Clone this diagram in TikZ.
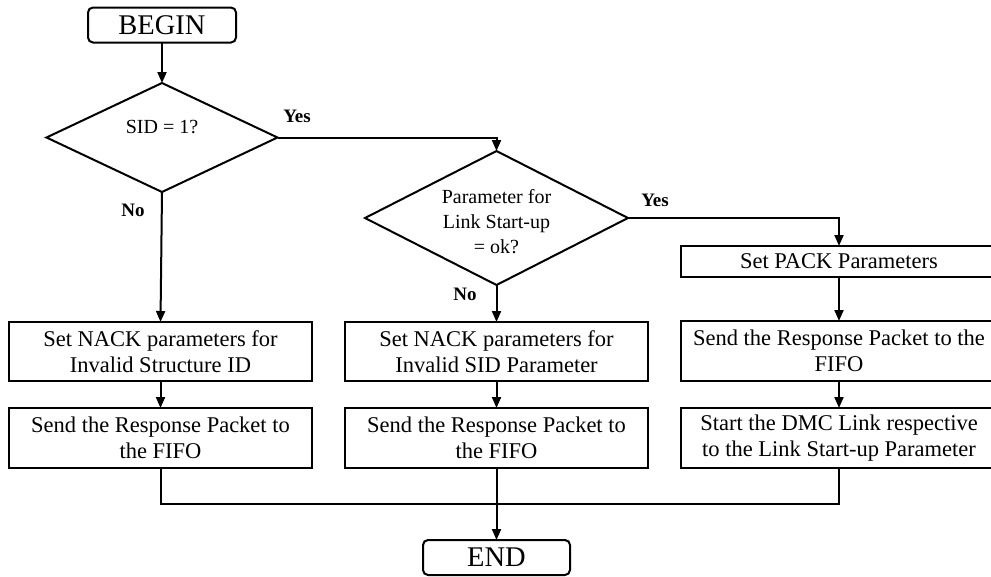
\documentclass[tikz,border=0pt]{standalone}
\usepackage{fontspec}
\setmainfont{Liberation Serif}
\usetikzlibrary{shapes.geometric,arrows.meta}
\begin{document}
\begin{tikzpicture}[x=1pt,y=-1pt,
  line width=2pt,
  every node/.style={inner sep=0pt, outer sep=0pt},
  term/.style={draw, rounded corners=5pt, minimum width=148pt, minimum height=35pt, font=\fontsize{28.5}{30}\selectfont},
  proc/.style={draw, align=center, minimum width=303pt, font=\fontsize{22.5}{26.5}\selectfont},
  dtext/.style={align=center, font=\fontsize{20}{25}\selectfont},
  yn/.style={font=\fontsize{19}{20}\selectfont\bfseries},
  arr/.style={-{Triangle[length=11pt,width=9pt]}},
  conn/.style={line width=2pt}
]
\clip (0,0) rectangle (991,576);
\useasboundingbox (0,0) rectangle (991,576);

\node[term] (begin) at (162,25) {BEGIN};
\node[draw, diamond, minimum width=231pt, minimum height=109pt] (d1) at (162,137.5) {};
\node[dtext] (t1) at (162,127) {SID = 1?};

\node[draw, diamond, minimum width=263pt, minimum height=134pt] (d2) at (496.5,218) {};
\node[dtext] (t2) at (496.5,222) {Parameter for\\Link Start-up\\= ok?};

\node[proc, minimum height=59pt] (L1) at (160.5,351.5) {Set NACK parameters for\\Invalid Structure ID};
\node[proc, minimum height=60pt] (L2) at (160.5,438) {Send the Response Packet to\\the FIFO};

\node[proc, minimum height=59pt] (M1) at (496.5,351.5) {Set NACK parameters for\\Invalid SID Parameter};
\node[proc, minimum height=60pt] (M2) at (496.5,438) {Send the Response Packet to\\the FIFO};

\node[proc, minimum width=316pt, minimum height=31pt] (R1) at (839,261.5) {Set PACK Parameters};
\node[proc, minimum width=316pt, minimum height=60pt] (R2) at (839,351) {Send the Response Packet to the\\FIFO};
\node[proc, minimum width=316pt, minimum height=60pt] (R3) at (839,438) {Start the DMC Link respective\\to the Link Start-up Parameter};

\node[term, minimum width=147pt] (end) at (496.5,557.5) {END};

\coordinate (m) at (0,504);

\node[yn] (yes1) at (297,116) {Yes};
\node[yn] (no1) at (133,210) {No};
\node[yn] (yes2) at (655,200) {Yes};
\node[yn] (no2) at (465,294) {No};

\draw[arr] (begin.south) -- (d1.north);
\draw[arr] (d1.east) -- (d2.north |- d1.east) -- (d2.north);
\draw[arr] (d1.south) -- (L1.north);
\draw[arr] (d2.south) -- (M1.north);
\draw[arr] (d2.east) -| (R1.north);
\draw[arr] (L1.south) -- (L2.north);
\draw[arr] (M1.south) -- (M2.north);
\draw[arr] (R1.south) -- (R2.north);
\draw[arr] (R2.south) -- (R3.north);
\draw[conn] (L2.south) -- (L2.south |- m) -- (R3.south |- m) -- (R3.south);
\draw[arr] (M2.south) -- (end.north);
\end{tikzpicture}
\end{document}
